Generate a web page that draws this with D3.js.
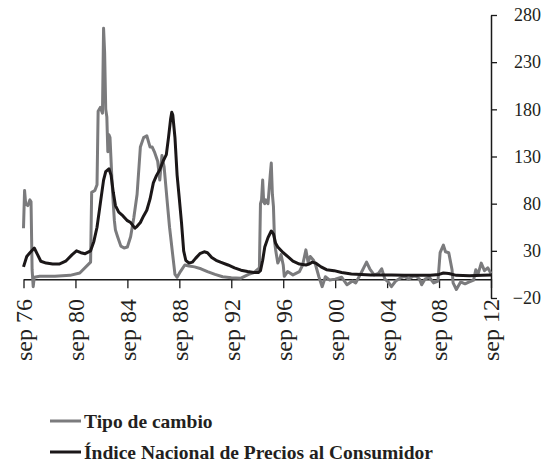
<!DOCTYPE html>
<html><head><meta charset="utf-8">
<script src="https://cdn.jsdelivr.net/npm/d3@7"></script>
<style>body{margin:0;background:#fff}svg{display:block}
.ax text{font-family:"Liberation Serif","Times New Roman",serif;fill:#231f20}
.lg text{font-family:"Liberation Serif",serif;font-weight:bold;fill:#231f20}
</style>
</head><body><svg id="c" width="546" height="471"></svg>
<script>
const seriesNames = ["Tipo de cambio", "Índice Nacional de Precios al Consumidor"];
const tickDates = ["1976-09","1980-09","1984-09","1988-09","1992-09","1996-09","2000-09","2004-09","2008-09","2012-09"];
const tickLabels = ["sep 76","sep 80","sep 84","sep 88","sep 92","sep 96","sep 00","sep 04","sep 08","sep 12"];
const yTicks = [-20, 30, 80, 130, 180, 230, 280];

const tcDates = ["1976-09","1976-10","1976-11","1977-01","1977-03","1977-04","1977-05","1977-06","1977-07","1977-12","1979-02","1980-04","1981-01","1981-11","1981-12","1982-03","1982-05","1982-06","1982-08","1982-10","1982-11","1982-12","1983-01","1983-02","1983-03","1983-04","1983-05","1983-07","1983-08","1983-09","1983-10","1983-12","1984-03","1984-06","1984-09","1984-12","1985-03","1985-06","1985-09","1985-12","1986-03","1986-06","1986-08","1986-10","1987-01","1987-03","1987-05","1987-07","1987-10","1987-12","1988-03","1988-05","1988-07","1988-10","1989-02","1989-06","1989-11","1990-05","1990-11","1991-06","1992-01","1992-09","1993-06","1994-01","1994-06","1994-11","1994-12","1995-01","1995-02","1995-03","1995-04","1995-05","1995-07","1995-09","1995-10","1995-11","1995-12","1996-01","1996-02","1996-04","1996-06","1996-07","1996-09","1996-10","1997-01","1997-06","1997-12","1998-03","1998-06","1998-08","1998-10","1999-01","1999-03","1999-06","1999-09","1999-12","2000-04","2000-09","2001-03","2001-08","2002-01","2002-04","2002-09","2003-02","2003-05","2003-09","2004-01","2004-04","2004-07","2004-10","2005-01","2005-05","2005-09","2006-01","2006-05","2006-09","2006-12","2007-03","2007-05","2007-08","2007-12","2008-04","2008-08","2008-10","2009-01","2009-03","2009-06","2009-09","2009-10","2010-01","2010-05","2010-09","2011-01","2011-05","2011-07","2011-09","2011-12","2012-03","2012-06","2012-09"];
const tcValues = [54,94,80,78,84,82,10,-8,2,3,3,4,6.5,18,92,94,100,178,182,176,266,240,180,172,135,153,150,100,80,62,52,45,35,33,34,45,65,90,140,150,152,140,140,135,125,105,131,119,80,55,25,5,2,8,15,14,13,11,8,5,2.5,1.5,1,5,7,12,80,84,105,82,80,84,80,110,123,90,77,40,31,17,22,26,15,3,8,4.5,8,15,31,18,24,20,15,2.5,-8,2.5,-1,0,2,-6,-2,-4,6.5,18,11,4.5,6,11,0,-3,-8,-2,1,3,0,3,3,0,-6,0,2,-4,-2,28,36,29,28,10,-4,-11,-3,-5,-3,-1,10,5,17,9,12,6];

const inpcDates = ["1976-09","1976-12","1977-03","1977-07","1977-10","1978-01","1978-06","1978-12","1979-06","1979-12","1980-06","1980-10","1981-02","1981-06","1981-11","1982-02","1982-05","1982-08","1982-11","1983-01","1983-04","1983-06","1983-08","1983-10","1984-01","1984-05","1984-09","1984-12","1985-04","1985-06","1985-09","1985-12","1986-03","1986-06","1986-09","1986-12","1987-03","1987-06","1987-09","1987-11","1988-01","1988-02","1988-03","1988-05","1988-07","1988-09","1988-11","1989-01","1989-03","1989-06","1989-09","1989-12","1990-04","1990-08","1990-11","1991-03","1991-07","1991-11","1992-06","1992-12","1993-06","1993-12","1994-06","1994-10","1994-12","1995-02","1995-04","1995-07","1995-10","1995-12","1996-02","1996-04","1996-09","1997-01","1997-06","1997-12","1998-06","1998-09","1998-12","1999-03","1999-08","2000-01","2000-08","2001-03","2001-12","2002-09","2003-06","2004-03","2005-01","2006-01","2007-01","2008-01","2008-09","2009-01","2009-06","2010-01","2011-01","2012-01","2012-09"];
const inpcValues = [13,24,28,33,26,19,17,16,16,19,26,30,28,27,30,40,55,80,105,114,117,110,92,78,71,67,62,60,54,56,60,67,73,85,102,110,116,125,132,150,170,177,174,150,110,85,60,30,20,17,18,22,27,29,28,23,20,18,15,12,9.5,8,7,7,9,20,34,44,51,48,38,34,28,24,19,16,15,16,18,17,13,10,9,7,5.5,5,4.5,4.5,4.5,4,4,4,5,6.5,6,4,3.5,4,4.5];

const parse = d3.timeParse("%Y-%m");
const svg = d3.select("#c");

const x = d3.scaleTime().domain([parse("1976-09"), parse("2012-09")]).range([23.5, 491]);
const y = d3.scaleLinear().domain([-20, 280]).range([298, 15]);

// x axis at zero
const xAxis = d3.axisBottom(x).tickValues(tickDates.map(parse)).tickSize(9).tickSizeOuter(0)
  .tickFormat((d, i) => tickLabels[i]);
const gx = svg.append("g").attr("class", "ax").attr("transform", `translate(0,${y(0)})`).call(xAxis);
gx.attr("font-family", null).attr("font-size", null);
gx.select(".domain").attr("stroke", "#1a1a1a").attr("stroke-width", 1.5);
gx.selectAll(".tick line").attr("stroke", "#1a1a1a").attr("stroke-width", 1.3);
gx.selectAll(".tick text")
  .attr("font-size", 24).attr("fill", null)
  .attr("text-anchor", "end").attr("dy", "0.33em")
  .attr("transform", `translate(0,${299 - y(0)}) rotate(-90)`)
  .attr("x", 0).attr("y", 0);

// y axis right
const yAxis = d3.axisRight(y).tickValues(yTicks).tickSize(6).tickSizeOuter(0);
const gy = svg.append("g").attr("class", "ax").attr("transform", "translate(491,0)").call(yAxis);
gy.attr("font-family", null).attr("font-size", null);
gy.select(".domain").attr("stroke", "#1a1a1a").attr("stroke-width", 1.5);
gy.selectAll(".tick line").attr("stroke", "#1a1a1a").attr("stroke-width", 1.3);
gy.selectAll(".tick text").attr("font-size", 18).attr("fill", null)
  .attr("text-anchor", "end").attr("x", 50);

const line = d3.line().x(d => x(d[0])).y(d => y(d[1])).curve(d3.curveLinear);
const tc = tcDates.map((d, i) => [parse(d), tcValues[i]]);
const inpc = inpcDates.map((d, i) => [parse(d), inpcValues[i]]);

svg.append("path").datum(tc).attr("d", line).attr("fill", "none")
  .attr("stroke", "#7b7b7d").attr("stroke-width", 3).attr("stroke-linejoin", "round");
svg.append("path").datum(inpc).attr("d", line).attr("fill", "none")
  .attr("stroke", "#1b1718").attr("stroke-width", 3).attr("stroke-linejoin", "round");

// legend
const colors = ["#7b7b7d", "#1b1718"];
const lg = svg.append("g").attr("class", "lg");
seriesNames.forEach((n, i) => {
  const yy = 421 + i * 31;
  lg.append("line").attr("x1", 50).attr("x2", 81).attr("y1", yy).attr("y2", yy)
    .attr("stroke", colors[i]).attr("stroke-width", 3);
  lg.append("text").attr("x", 84).attr("y", yy + 7).text(n).attr("font-size", 19.5);
});
</script></body></html>
